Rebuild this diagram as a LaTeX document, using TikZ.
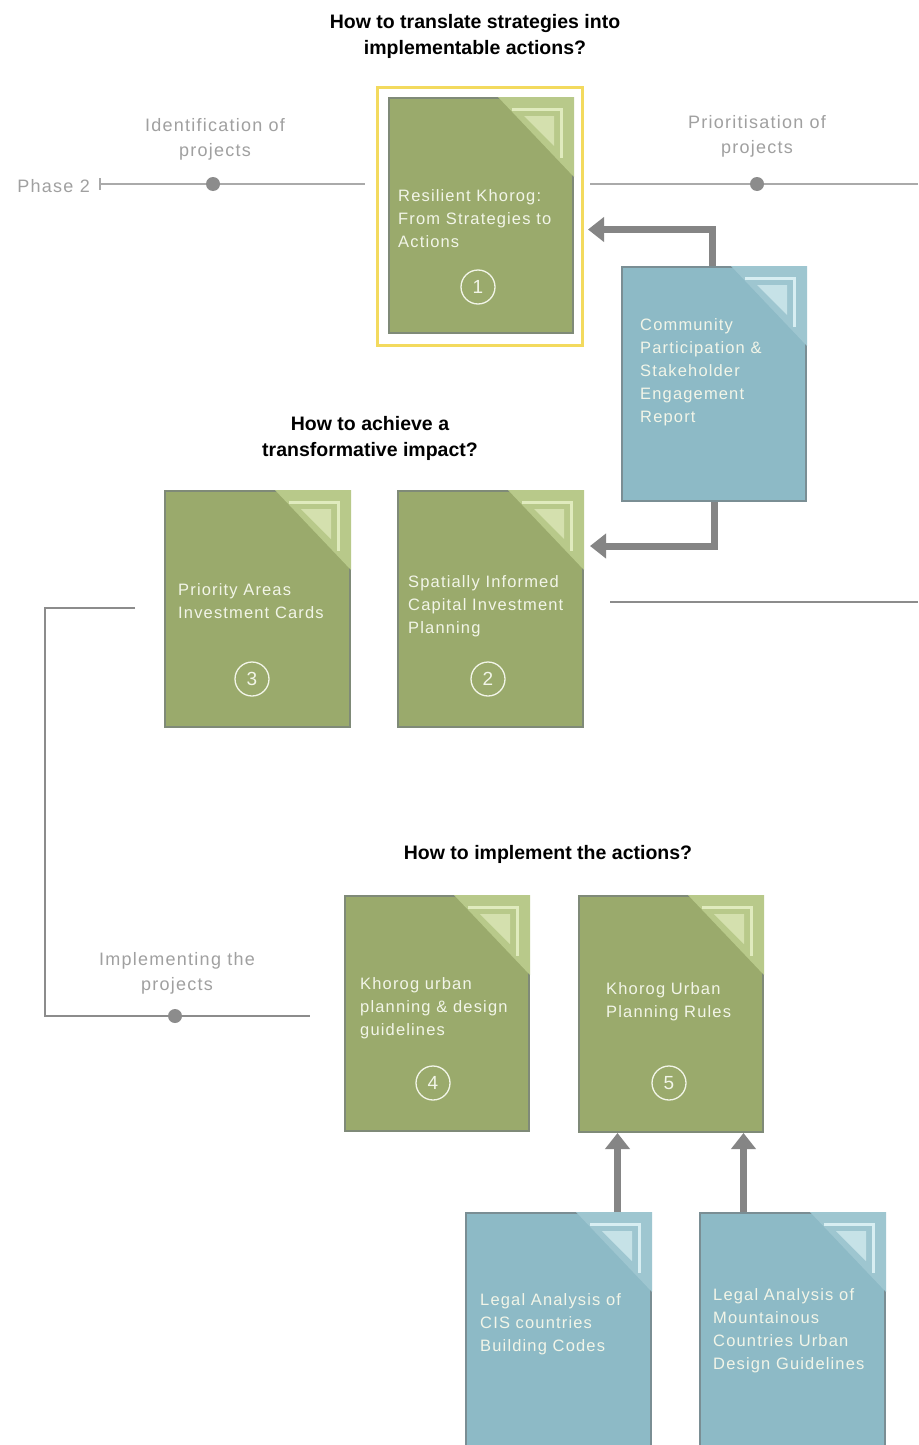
\documentclass[tikz,border=0pt]{standalone}
\usepackage{fontspec}
\setmainfont{Liberation Sans}
\usetikzlibrary{arrows.meta,calc}

\definecolor{leaf}{HTML}{9AAA6C}
\definecolor{leafedge}{HTML}{7F8A78}
\definecolor{leaffold}{HTML}{B8C98A}
\definecolor{leafpale}{HTML}{E0EBBE}
\definecolor{sky}{HTML}{8DBAC6}
\definecolor{skyedge}{HTML}{7A8E94}
\definecolor{skyfold}{HTML}{9EC6D0}
\definecolor{skypale}{HTML}{D8EEF2}
\definecolor{flowgray}{HTML}{858585}
\definecolor{linegray}{HTML}{AAAAAA}
\definecolor{dotgray}{HTML}{8C8C8C}
\definecolor{labelgray}{HTML}{A0A0A0}
\definecolor{frameyellow}{HTML}{F3DA5E}
\definecolor{covertext}{HTML}{F2F5E8}

% folded corner ornament in the top right of a cover
\newcommand{\coverfold}[3]{%
  \fill[#2] ($(#1.north east)+(-76,0)$) -- (#1.north east) -- ($(#1.north east)+(0,80)$) -- cycle;
  \draw[#3, line width=3pt] ($(#1.north east)+(-62,12)$) -- ($(#1.north east)+(-13,12)$) -- ($(#1.north east)+(-13,61)$);
  \fill[#3, opacity=0.7] ($(#1.north east)+(-50,19)$) -- ($(#1.north east)+(-20,19)$) -- ($(#1.north east)+(-20,49)$) -- cycle;
}

\begin{document}
\begin{tikzpicture}[x=1pt,y=-1pt,
  greencover/.style={draw=leafedge, line width=2pt, fill=leaf, inner sep=0pt,
    minimum width=185, minimum height=236, anchor=north west},
  bluecover/.style={draw=skyedge, line width=2pt, fill=sky, inner sep=0pt,
    minimum width=185, minimum height=235, anchor=north west},
  covertitle/.style={text=covertext, align=left, inner sep=0pt, anchor=north west,
    font=\fontsize{16.5}{23}\selectfont\addfontfeatures{LetterSpace=7}},
  numring/.style={circle, draw=covertext, line width=1.3pt, minimum size=34, inner sep=0pt,
    text=covertext, font=\fontsize{19}{19}\selectfont},
  question/.style={align=center, inner sep=0pt, anchor=north, text=black,
    font=\bfseries\fontsize{19.5}{26}\selectfont},
  steplabel/.style={align=center, inner sep=0pt, anchor=north, text=labelgray,
    font=\fontsize{18}{25}\selectfont\addfontfeatures{LetterSpace=7}},
  timeline/.style={draw=linegray, line width=2pt},
  thinline/.style={draw=dotgray, line width=1.5pt},
  milestone/.style={circle, fill=dotgray, minimum size=14, inner sep=0pt},
  flow/.style={draw=flowgray, line width=7pt,
    -{Triangle[length=16pt,width=24pt]}}
]
\fill[white] (0,0) rectangle (918,1445);
\useasboundingbox (0,0) rectangle (918,1445);
\clip (0,0) rectangle (918,1445);

% ---------- questions ----------
\node[question] (q1) at (475,14) {How to translate strategies into\\implementable actions?};
\node[question] (q2) at (370,416) {How to achieve a\\transformative impact?};
\node[question] (q3) at (548,845) {How to implement the actions?};

% ---------- phase 2 timeline ----------
\node[steplabel, anchor=east] (phase) at (90,186) {Phase 2};
\coordinate (tlA) at (100,184);
\coordinate (tlB) at (365,184);
\coordinate (tlC) at (590,184);
\coordinate (tlD) at (918,184);
\draw[timeline] (tlA) -- (tlB);
\draw[timeline] ($(tlA)+(0,-6)$) -- ($(tlA)+(0,6)$);
\draw[timeline] (tlC) -- (tlD);
\node[milestone] (m1) at (213,184) {};
\node[milestone] (m2) at (757,184) {};
\node[steplabel] (l1) at (215,118) {Identification of\\projects};
\node[steplabel] (l2) at (757,115) {Prioritisation of\\projects};

% ---------- cover 1 ----------
\node[draw=frameyellow, line width=3pt, minimum width=205, minimum height=258,
  inner sep=0pt, anchor=north west] (frame1) at (376,86) {};
\node[greencover, minimum width=184, minimum height=235] (b1) at (388,97) {};
\coverfold{b1}{leaffold}{leafpale}
\node[covertitle] (t1) at (398,189) {Resilient Khorog:\\From Strategies to\\Actions};
\node[numring] (n1) at (478,287) {1};

% ---------- participation report ----------
\node[bluecover, minimum width=184, minimum height=234] (cp) at (621,266) {};
\coverfold{cp}{skyfold}{skypale}
\node[covertitle] (tcp) at (640,318) {Community\\Participation \&\\Stakeholder\\Engagement\\Report};

\draw[flow] ($(cp.north)+(-2,0)$) |- ($(frame1.east)+(4,13)$);

% ---------- covers 2 and 3 ----------
\node[greencover] (b3) at (164,490) {};
\coverfold{b3}{leaffold}{leafpale}
\node[covertitle] (t3) at (178,583) {Priority Areas\\Investment Cards};
\node[numring] (n3) at (252,679) {3};

\node[greencover] (b2) at (397,490) {};
\coverfold{b2}{leaffold}{leafpale}
\node[covertitle] (t2) at (408,575) {Spatially Informed\\Capital Investment\\Planning};
\node[numring] (n2) at (488,679) {2};

\draw[flow] (cp.south) |- ($(b2.east)+(6,-63)$);

% ---------- connecting lines ----------
\coordinate (rA) at (610,602);
\coordinate (rB) at (918,602);
\draw[thinline] (rA) -- (rB);
\coordinate (lA) at (135,608);
\coordinate (lB) at (45,1016);
\coordinate (lC) at (310,1016);
\draw[thinline] (lA) -| (lB) -- (lC);
\node[milestone] (m3) at (175,1016) {};
\node[steplabel] (l3) at (177,952) {Implementing the\\projects};

% ---------- covers 4 and 5 ----------
\node[greencover, minimum width=184, minimum height=235] (b4) at (344,895) {};
\coverfold{b4}{leaffold}{leafpale}
\node[covertitle] (t4) at (360,977) {Khorog urban\\planning \& design\\guidelines};
\node[numring] (n4) at (433,1083) {4};

\node[greencover, minimum width=184, minimum height=236] (b5) at (578,895) {};
\coverfold{b5}{leaffold}{leafpale}
\node[covertitle] (t5) at (606,982) {Khorog Urban\\Planning Rules};
\node[numring] (n5) at (669,1083) {5};

% ---------- legal analyses ----------
\node[bluecover, minimum height=260] (ls1) at (465,1212) {};
\coverfold{ls1}{skyfold}{skypale}
\node[covertitle] (tl1) at (480,1293) {Legal Analysis of\\CIS countries\\Building Codes};

\node[bluecover, minimum height=260] (ls2) at (699,1212) {};
\coverfold{ls2}{skyfold}{skypale}
\node[covertitle] (tl2) at (713,1288) {Legal Analysis of\\Mountainous\\Countries Urban\\Design Guidelines};

\coordinate (ua) at ($(ls1.north)+(59,0)$);
\coordinate (ub) at ($(ls2.north)+(-49,0)$);
\draw[flow] (ua) -- (ua |- b5.south);
\draw[flow] (ub) -- (ub |- b5.south);
\end{tikzpicture}
\end{document}
